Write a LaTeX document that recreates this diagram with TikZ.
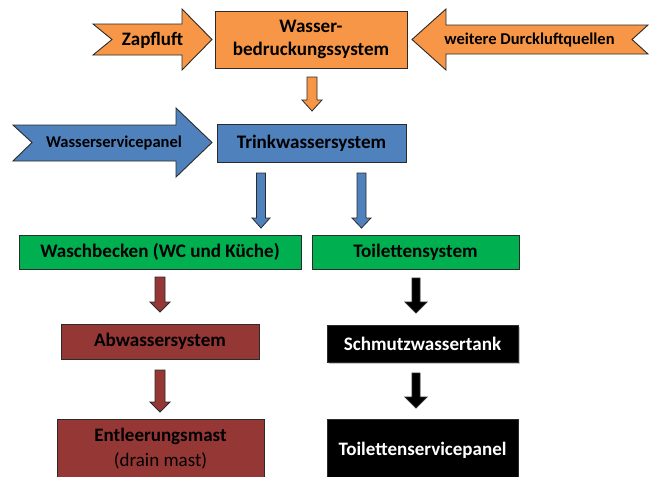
\documentclass[tikz,border=0pt]{standalone}
\usepackage{fontspec}
\setmainfont{Carlito}
\definecolor{cOrange}{HTML}{F79646}
\definecolor{cBlue}{HTML}{4F81BD}
\definecolor{cGreen}{HTML}{00B050}
\definecolor{cRed}{HTML}{953735}
\definecolor{cEdge}{HTML}{2B2B2B}
\newcommand{\blkdown}[7]{%
  \filldraw[fill=#7, draw=cEdge, line width=0.8pt]
    (#1-#5,#2) -- (#1+#5,#2) -- (#1+#5,#3) -- (#1+#6,#3) -- (#1,#4)
    -- (#1-#6,#3) -- (#1-#5,#3) -- cycle;}
\tikzset{
  box/.style={draw=cEdge, line width=0.9pt, inner sep=0pt, align=center,
    font=\fontsize{19.1}{23}\selectfont\bfseries},
  bigarrow/.style={draw=cEdge, line width=0.9pt, line join=miter},
  lbl/.style={inner sep=0pt, font=\fontsize{16.5}{19}\selectfont\bfseries},
  lblbig/.style={inner sep=0pt, font=\fontsize{19}{22}\selectfont\bfseries},
}
\begin{document}
\begin{tikzpicture}[x=1pt,y=-1pt]
\clip (0,0) rectangle (654,477);
\fill[white] (0,0) rectangle (654,477);

% top row arrows
\filldraw[bigarrow, fill=cOrange] (93,24) -- (182,24) -- (182,9) -- (212,39.5)
  -- (182,70) -- (182,55) -- (93,55) -- (112,39.5) -- cycle;
\node[lblbig] (zapf) at (152.5,40) {Zapfluft};
\filldraw[bigarrow, fill=cOrange] (648,25) -- (446,25) -- (446,9) -- (412,39.5)
  -- (446,70) -- (446,54) -- (648,54) -- (632,39.5) -- cycle;
\node[lbl] (weit) at (529.5,40) {weitere Durckluftquellen};

\node[box, fill=cOrange, minimum width=192pt, minimum height=57pt] (wbs)
  at (311,39.5) {Wasser-\\bedruckungssystem};

% second row
\filldraw[bigarrow, fill=cBlue] (13,125) -- (176,125) -- (176,108) -- (212,142.5)
  -- (176,177) -- (176,161) -- (13,161) -- (32,142.5) -- cycle;
\node[lbl] (wsp) at (114,143) {Wasserservicepanel};
\node[box, fill=cBlue, minimum width=189pt, minimum height=38pt] (trink)
  at (311.5,143) {Trinkwassersystem};

% green row
\node[box, fill=cGreen, minimum width=282pt, minimum height=34pt] (wasch)
  at (160,252) {Waschbecken (WC und K\"uche)};
\node[box, fill=cGreen, minimum width=207pt, minimum height=34pt] (toil)
  at (415.5,252) {Toilettensystem};

% red column
\node[box, fill=cRed, minimum width=198pt, minimum height=35pt] (abw)
  at (160,341.5) {Abwassersystem};
\node[box, fill=cRed, minimum width=207pt, minimum height=62pt] (entl)
  at (160.5,450) {};
\node[align=center, inner sep=0pt, font=\fontsize{19}{25}\selectfont] (entlt)
  at (160.5,449) {\textbf{Entleerungsmast}\\(drain mast)};

% black column
\fill[gray!45] (329,327) rectangle (520,364);
\node[box, fill=black, text=white, minimum width=191pt, minimum height=37pt] (schm)
  at (422.5,343.5) {Schmutzwassertank};
\node[box, fill=black, text=white, minimum width=191pt, minimum height=62pt] (tsp)
  at (422.5,450) {};
\node[lblbig, text=white] (tspt) at (422.5,450) {Toilettenservicepanel};

% connector block arrows
\blkdown{312}{77}{100}{111}{5}{10}{cOrange}
\blkdown{261}{173}{218}{228}{4.5}{9}{cBlue}
\blkdown{361.5}{173}{218}{228}{4.5}{9.5}{cBlue}
\blkdown{160}{277}{302}{312}{5}{10}{cRed}
\blkdown{160}{370}{402}{412}{5}{10}{cRed}
\blkdown{416}{278}{302}{313}{4}{11}{black}
\blkdown{416}{373}{397}{408}{4}{11}{black}
\end{tikzpicture}
\end{document}
